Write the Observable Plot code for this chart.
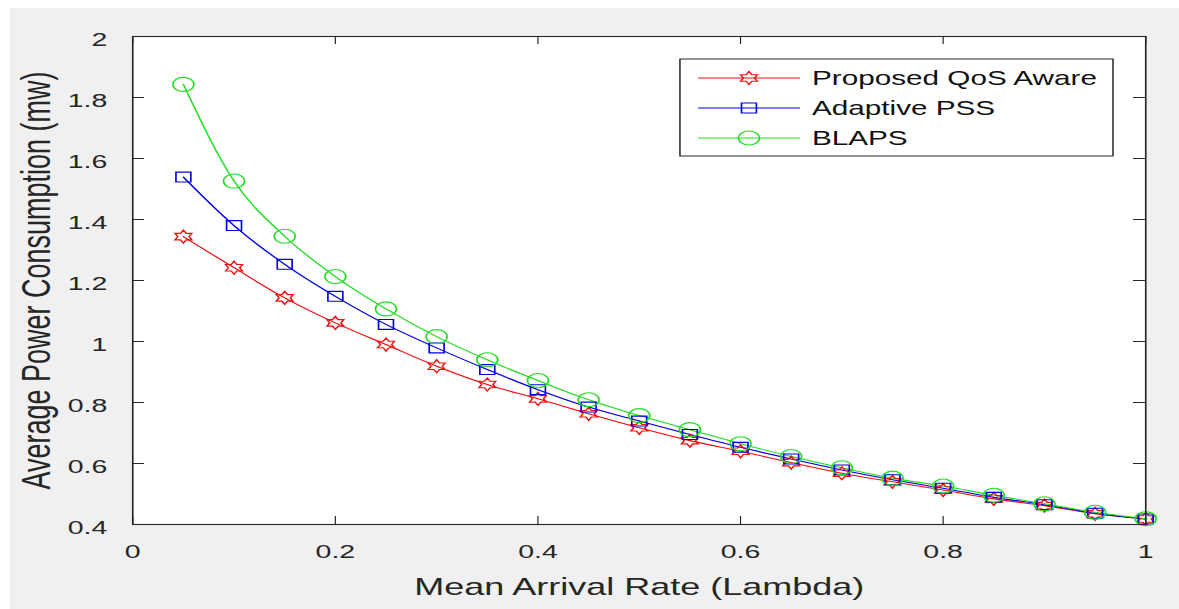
<!DOCTYPE html>
<html>
<head>
<meta charset="utf-8">
<script src="https://cdn.jsdelivr.net/npm/d3@7"></script>
<script src="https://cdn.jsdelivr.net/npm/@observablehq/plot@0.6"></script>
<style>
  html, body { margin: 0; padding: 0; background: #ffffff; overflow: hidden; width: 1179px; height: 609px; }
  #bg { position: absolute; left: 10px; top: 8px; width: 1169px; height: 601px; background: #f0f0f0; }
  #wrap { position: absolute; left: 0; top: 0; width: 786px; height: 609px; transform: scaleX(1.5); transform-origin: 0 0; }
  #wrap svg { position: absolute; left: 0; top: 0; }
</style>
</head>
<body>
<div id="bg"></div>
<div id="wrap"></div>
<script>
// ---- data ----
const lambda = [0.05, 0.10, 0.15, 0.20, 0.25, 0.30, 0.35, 0.40, 0.45, 0.50,
                0.55, 0.60, 0.65, 0.70, 0.75, 0.80, 0.85, 0.90, 0.95, 1.00];
const proposed = [1.344, 1.242, 1.143, 1.061, 0.990, 0.919, 0.859, 0.812, 0.763, 0.717,
                  0.675, 0.640, 0.603, 0.568, 0.540, 0.513, 0.484, 0.462, 0.435, 0.418];
const adaptive = [1.539, 1.380, 1.253, 1.148, 1.056, 0.979, 0.908, 0.842, 0.785, 0.739,
                  0.695, 0.653, 0.615, 0.579, 0.547, 0.519, 0.489, 0.465, 0.437, 0.418];
const blaps    = [1.843, 1.526, 1.345, 1.213, 1.107, 1.016, 0.940, 0.872, 0.809, 0.757,
                  0.711, 0.665, 0.623, 0.586, 0.552, 0.526, 0.496, 0.468, 0.440, 0.419];
const seriesNames = ["Proposed QoS Aware", "Adaptive PSS", "BLAPS"];
const seriesColors = ["#f01010", "#0000e6", "#22dd22"];
const xTicks = [0, 0.2, 0.4, 0.6, 0.8, 1];
const yTicks = [0.4, 0.6, 0.8, 1, 1.2, 1.4, 1.6, 1.8, 2];
const xLabel = "Mean Arrival Rate (Lambda)";
const yLabel = "Average Power Consumption (mw)";

// hexagram symbol (six-pointed star outline)
const hexagram = {
  draw(ctx, size) {
    const R = Math.sqrt(size / Math.PI);
    const r = R / Math.sqrt(3);
    for (let i = 0; i < 12; i++) {
      const a = -Math.PI / 2 + i * Math.PI / 6;
      const rr = i % 2 ? r : R;
      const x = rr * Math.cos(a), y = rr * Math.sin(a);
      if (i) ctx.lineTo(x, y); else ctx.moveTo(x, y);
    }
    ctx.closePath();
  }
};
const seriesSymbols = [hexagram, d3.symbolSquare, d3.symbolCircle];
const seriesR = [6.5, 5.6, 7];
const seriesValues = [proposed, adaptive, blaps];

const W = 786, H = 609;
const mL = 88, mR = 22.67, mT = 36, mB = 85;
const plotW = W - mL - mR, plotH = H - mT - mB;
const tickLen = 8;
const axisColor = "#262626";

const rows = seriesValues.map((vals, s) => lambda.map((x, i) => ({x, y: vals[i], s})));

const marks = [
  Plot.frame({fill: "white", stroke: null}),
  // inward ticks, all four sides
  Plot.tickX(xTicks, {x: d => d, insetTop: plotH - tickLen, stroke: axisColor, strokeWidth: 0.8}),
  Plot.tickX(xTicks, {x: d => d, insetBottom: plotH - tickLen, stroke: axisColor, strokeWidth: 0.8}),
  Plot.tickY(yTicks, {y: d => d, insetRight: plotW - tickLen, stroke: axisColor, strokeWidth: 1}),
  Plot.tickY(yTicks, {y: d => d, insetLeft: plotW - tickLen, stroke: axisColor, strokeWidth: 1}),
  Plot.axisX(xTicks, {tickSize: 0, tickPadding: 20, fontSize: 19, label: null, tickFormat: d => String(d)}),
  Plot.axisY(yTicks, {tickSize: 0, tickPadding: 17, fontSize: 19, dy: 3, label: null, tickFormat: d => String(d)}),
];
rows.forEach((data, s) => {
  marks.push(Plot.line(data, {x: "x", y: "y", stroke: seriesColors[s], strokeWidth: 1.1, curve: "monotone-x"}));
});
rows.forEach((data, s) => {
  marks.push(Plot.dot(data, {x: "x", y: "y", stroke: seriesColors[s], fill: "none", strokeWidth: 1.1, symbol: seriesSymbols[s], r: seriesR[s]}));
});
marks.push(
  Plot.frame({stroke: axisColor, strokeWidth: 1.1}),
  Plot.text([xLabel], {frameAnchor: "bottom", dy: 63, lineAnchor: "middle", textAnchor: "middle", fontSize: 24, fill: axisColor}),
  Plot.text([yLabel], {frameAnchor: "left", dx: -64, rotate: -90, lineAnchor: "middle", textAnchor: "middle", fontSize: 27, fill: axisColor})
);

const chart = Plot.plot({
  width: W, height: H,
  marginLeft: mL, marginRight: mR, marginTop: mT, marginBottom: mB,
  x: {domain: [0, 1]},
  y: {domain: [0.4, 2]},
  style: {background: "transparent", fontFamily: "'Liberation Sans', Arial, sans-serif", color: axisColor, overflow: "visible"},
  marks
});
const wrap = document.getElementById("wrap");
wrap.appendChild(chart);

// ---- legend ----
const legend = d3.select(wrap).append("svg")
  .attr("width", W).attr("height", H)
  .style("font-family", "'Liberation Sans', Arial, sans-serif");
const box = {x0: 453.3, x1: 742, y0: 59, y1: 156};
legend.append("rect")
  .attr("x", box.x0).attr("y", box.y0)
  .attr("width", box.x1 - box.x0).attr("height", box.y1 - box.y0)
  .attr("fill", "white").attr("stroke", axisColor).attr("stroke-width", 1);
const rowY = [78, 108, 138];
seriesNames.forEach((name, s) => {
  const g = legend.append("g");
  g.append("line").attr("x1", 465.3).attr("x2", 533.3).attr("y1", rowY[s]).attr("y2", rowY[s])
    .attr("stroke", seriesColors[s]).attr("stroke-width", 1.1);
  g.append("path")
    .attr("transform", `translate(499.3,${rowY[s]})`)
    .attr("d", d3.symbol(seriesSymbols[s], Math.PI * seriesR[s] * seriesR[s])())
    .attr("fill", "none").attr("stroke", seriesColors[s]).attr("stroke-width", 1.1);
  g.append("text").attr("x", 541.3).attr("y", rowY[s]).attr("dy", "0.36em")
    .attr("font-size", 19.8).attr("fill", "#111").text(name);
});
</script>
</body>
</html>
